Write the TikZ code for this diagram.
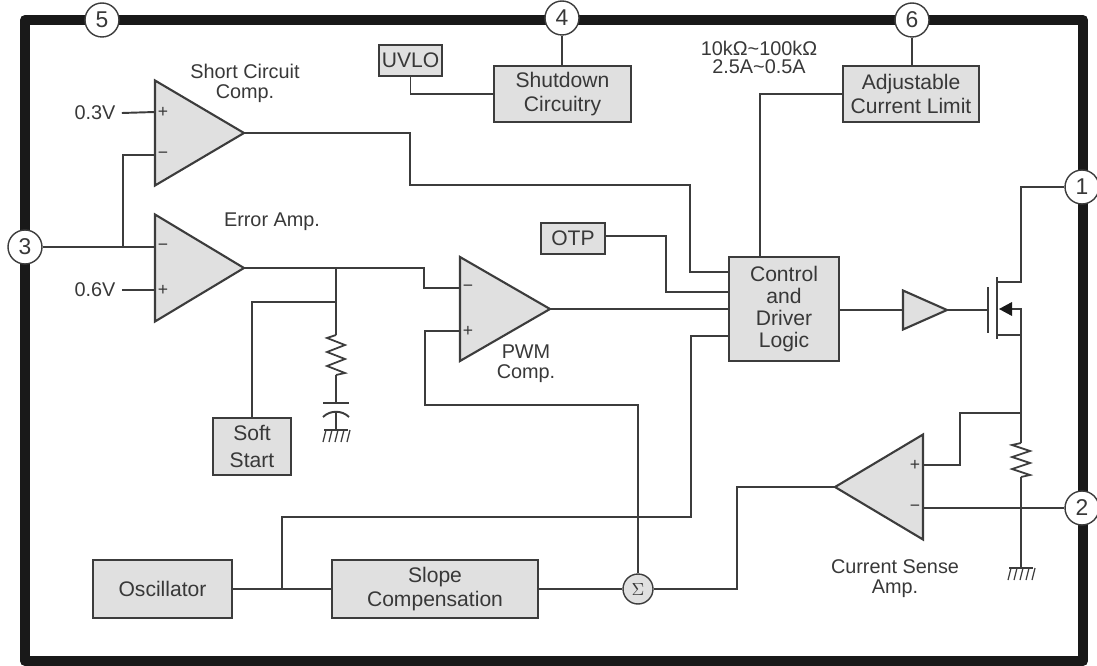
\documentclass[tikz,border=0pt]{standalone}
\usepackage{fontspec}
\setmainfont{Liberation Sans}
\usetikzlibrary{shapes.geometric}
\definecolor{blockgray}{HTML}{E0E0E0}
\definecolor{wiregray}{HTML}{3C3C3C}
\definecolor{textgray}{HTML}{383838}
\tikzset{
  wire/.style={draw=wiregray, line width=1.1pt, line join=miter},
  block/.style={rectangle, draw=wiregray, fill=blockgray, line width=1.2pt, inner sep=0pt, outer sep=0pt, align=center, text=textgray, font=\fontsize{12}{13.5}\selectfont},
  amp/.style={isosceles triangle, isosceles triangle stretches, draw=wiregray, fill=blockgray, line width=1.2pt, inner sep=0pt, outer sep=0pt, anchor=apex},
  pin/.style={circle, draw=wiregray, fill=white, line width=0.8pt, inner sep=0pt, minimum size=0.68cm, text=textgray, font=\fontsize{13}{13}\selectfont},
  label/.style={align=center, inner sep=0pt, text=textgray, font=\fontsize{11.3}{11.4}\selectfont},
  sign/.style={inner sep=0pt, text=textgray, font=\fontsize{10}{10}\selectfont}
}
\begin{document}
\begin{tikzpicture}[x=0.02cm, y=-0.02cm]
        \useasboundingbox (0,0) rectangle (1097,665);

        % Outer frame
        \draw[line width=5.7pt, draw=black!90, line join=round] (25,20) rectangle (1083,661);

        % Pins
        \node[pin] (P5) at (102,20) {5};
        \node[pin] (P4) at (562,18) {4};
        \node[pin] (P6) at (912,20) {6};
        \node[pin] (P1) at (1082,187) {1};
        \node[pin] (P2) at (1082,508) {2};
        \node[pin] (P3) at (25,247) {3};

        % Blocks
        \node[block, minimum width=1.26cm, minimum height=0.62cm] (UVLO) at (410.5,60.5) {UVLO};
        \node[block, minimum width=2.74cm, minimum height=1.12cm] (SD) at (562.5,94) {Shutdown\\Circuitry};
        \node[block, minimum width=2.72cm, minimum height=1.12cm] (ACL) at (911,94) {Adjustable\\Current Limit};
        \node[block, minimum width=1.28cm, minimum height=0.62cm] (OTP) at (573,238.5) {OTP};
        \node[block, minimum width=2.2cm, minimum height=2.08cm] (CTL) at (784,309) {Control\\[-1pt]and\\[-1pt]Driver\\[-1pt]Logic};
        \node[block, minimum width=1.56cm, minimum height=1.14cm] (SS) at (252,446.5) {Soft\\[1.5pt]Start};
        \node[block, minimum width=2.78cm, minimum height=1.16cm] (OSC) at (162.5,589) {Oscillator};
        \node[block, minimum width=4.12cm, minimum height=1.16cm] (SLOPE) at (435,589) {Slope\\Compensation};
        \node[circle, draw=wiregray, fill=blockgray, line width=0.8pt, inner sep=0pt, minimum size=0.6cm, text=textgray] (SUM) at (638,589) {$\Sigma$};

        % Amplifiers
        \node[amp, minimum width=2.1cm, minimum height=1.78cm] (SCC) at (244,133) {};
        \node[amp, minimum width=2.14cm, minimum height=1.78cm] (EA) at (244,268) {};
        \node[amp, minimum width=2.08cm, minimum height=1.8cm] (PWM) at (550,309) {};
        \node[amp, minimum width=0.78cm, minimum height=0.88cm] (DRV) at (947,310) {};
        \node[amp, minimum width=2.1cm, minimum height=1.76cm, shape border rotate=180] (CSA) at (835,487) {};

        % Amplifier inputs
        \coordinate (SCC-p) at (155,112);
        \coordinate (SCC-n) at (155,155);
        \coordinate (EA-n) at (155,247);
        \coordinate (EA-p) at (155,290);
        \coordinate (PWM-n) at (460,288);
        \coordinate (PWM-p) at (460,331);
        \coordinate (CSA-p) at (923,465);
        \coordinate (CSA-n) at (923,508);
        \foreach \x/\y/\t in {163/112/+, 163/155/−, 163/247/−, 163/290/+, 468/288/−, 468/331/+, 915/465/+, 915/508/−}
        \node[sign] at (\x,\y) {\t};

        % Fixed inputs
        \node[label] (V3) at (95,113) {0.3V};
        \node[label] (V6) at (95,290) {0.6V};
        \draw[wire] (V3.east) ++(6,0) -- (SCC-p);
        \draw[wire] (V6.east) ++(6,0) -- (EA-p);

        % Connections
        \draw[wire] (P4) -- (SD.north -| P4);
        \draw[wire] (P6) -- (ACL.north -| P6);
        \draw[wire] (UVLO) |- (SD.west);
        \draw[wire] (ACL.west) -| (760,257);
        \draw[wire] (P3) -- (EA-n);
        \draw[wire] (123,247) |- (SCC-n);
        \draw[wire] (SCC.apex) -- (410,133) |- (690,185) |- (729,272);
        \draw[wire] (EA.apex) -- (424,268) |- (PWM-n);
        \draw[wire] (336,268) -- (336,335);
        \draw[wire] (336,302) -| (SS.north);
        \draw[wire] (OTP.east |- 666,236) -- (666,236) |- (729,292);
        \draw[wire] (PWM.apex) -- (729,309);
        \draw[wire] (729,336) -| (691,517) -| (282,589);
        \draw[wire] (PWM-p) -| (425,405) -| (SUM.north);
        \draw[wire] (OSC.east) -- (SLOPE.west);
        \draw[wire] (SLOPE.east) -- (SUM.west);
        \draw[wire] (SUM.east) -| (737,487) -- (CSA.apex);
        \draw[wire] (CTL.east |- DRV.west) -- (903,310);
        \draw[wire] (DRV.apex) -- (988,310);
        \draw[wire] (CSA-p) -| (960,413) -- (1021,413);
        \draw[wire] (CSA-n) -- (P2);

        % Output transistor
        \draw[wire] (988,287) -- (988,333);
        \draw[wire] (997,277) -- (997,339);
        \draw[wire] (997,282) -| (1021,187) -- (P1);
        \draw[wire] (1005,309) -| (1021,335) -- (997,335);
        \draw[wire] (1021,335) -- (1021,443);
        \draw[wire] (1021,477) -- (1021,568);
        \fill[black!90] (999,309) -- (1012,302) -- (1012,316) -- cycle;

        % Resistors
        \draw[wire, line width=1pt] (336,335) -- ++(-9,3) -- ++(18,7) -- ++(-18,7) -- ++(18,7) -- ++(-18,7) -- ++(18,7) -- ++(-9,2);
        \draw[wire, line width=1pt] (1021,443) -- ++(-9,2) -- ++(18,6) -- ++(-18,6) -- ++(18,6) -- ++(-18,6) -- ++(18,6) -- ++(-9,2);

        % Capacitor
        \draw[wire] (336,375) -- (336,403);
        \draw[wire] (323,403) -- (349,403);
        \draw[wire] (323,417) .. controls (330,410) and (342,410) .. (349,417);
        \draw[wire] (336,412) -- (336,430);

        % Grounds
        \foreach \gx/\gy in {336/430, 1021/568} {
        \draw[wire, line width=0.9pt] (\gx-12,\gy) -- (\gx+12,\gy);
        \foreach \k in {-1,...,3}
        \draw[wire, line width=0.7pt] (\gx+6*\k-4,\gy) -- ++(-3,12);
        }

        % Labels
        \node[label] (L-SCC) at (245,83.5) {Short Circuit\\Comp.};
        \node[label] (L-EA) at (272,222) {Error Amp.};
        \node[label] (L-PWM) at (526,363.5) {PWM\\Comp.};
        \node[label] (L-CSA) at (895,579) {Current Sense\\Amp.};
        \node[label] (L-ACL) at (759,57.5) {10kΩ\textasciitilde100kΩ\\[-1pt]2.5A\textasciitilde0.5A};
    \end{tikzpicture}
\end{document}
